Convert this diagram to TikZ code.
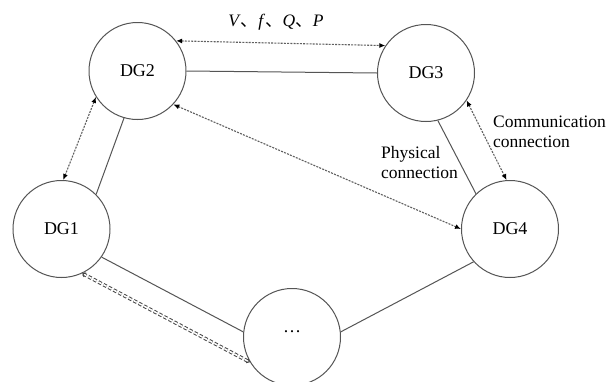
\documentclass[tikz,border=0pt]{standalone}
\usepackage{fontspec}
\setmainfont{Liberation Serif}
\newfontfamily\cjk{Noto Sans CJK SC}
\usetikzlibrary{arrows.meta}
\definecolor{circcol}{HTML}{555555}
\definecolor{linecol}{HTML}{555555}
\definecolor{dotcol}{HTML}{606060}
\definecolor{dblcol}{HTML}{454545}
\begin{document}
\begin{tikzpicture}[x=1pt,y=1pt,
  unit/.style={circle, draw=circcol, line width=1pt, minimum size=97pt, inner sep=0pt,
    font=\fontsize{18}{20}\selectfont},
  phys/.style={draw=linecol, line width=1pt},
  comm/.style={draw=dotcol, line width=1.1pt, dash pattern=on 2pt off 1.2pt,
    {Latex[length=6pt,width=5pt,black]}-{Latex[length=6pt,width=5pt,black]}},
  commdbl/.style={draw=dblcol, line width=1pt, double=white, double distance=1.5pt,
    dash pattern=on 3.5pt off 2.2pt,
    {Straight Barb[length=2.5pt,width=4.5pt]}-{Straight Barb[length=2.5pt,width=4.5pt]}},
  lbl/.style={font=\fontsize{17.5}{20}\selectfont, align=left, inner sep=0pt}
]
\useasboundingbox (0,0) rectangle (611,-381);
\fill[white] (0,0) rectangle (611,-381);

\node[unit] (DG2) at (137.5,-71) {DG2};
\node[unit] (DG3) at (426,-73) {DG3};
\node[unit] (DG1) at (61.5,-229) {DG1};
\node[unit] (DG4) at (510,-229) {DG4};
\node[unit, text height=0pt, text depth=10pt] (DGn) at (292,-337) {…};

% physical connections
\draw[phys] (DG2.east) -- (DG3.west);
\draw[phys] (DG2.254) -- (DG1.45);
\draw[phys] (DG3.-76) -- (DG4.134);
\draw[phys] (DG1.-35) -- (DGn.174);
\draw[phys] (DGn.6) -- (DG4.222);

% communication connections
\draw[comm] (DG2.38) -- (DG3.146);
\draw[comm] (DG2.212) -- (DG1.88);
\draw[comm] (DG2.-43) -- (DG4.west);
\draw[comm] (DG3.-34) -- (DG4.94);
\draw[commdbl] (DG1.-65) -- (DGn.211);

% labels
\node[lbl] (lblVfQP) at (276,-22) {\textit{V}{\cjk 、}\textit{f}{\cjk 、}\textit{Q}{\cjk 、}\textit{P}};
\node[lbl, anchor=west] (lblPhys) at (381,-163) {Physical\\connection};
\node[lbl, anchor=west] (lblComm) at (493,-132) {Communication\\connection};
\end{tikzpicture}
\end{document}
